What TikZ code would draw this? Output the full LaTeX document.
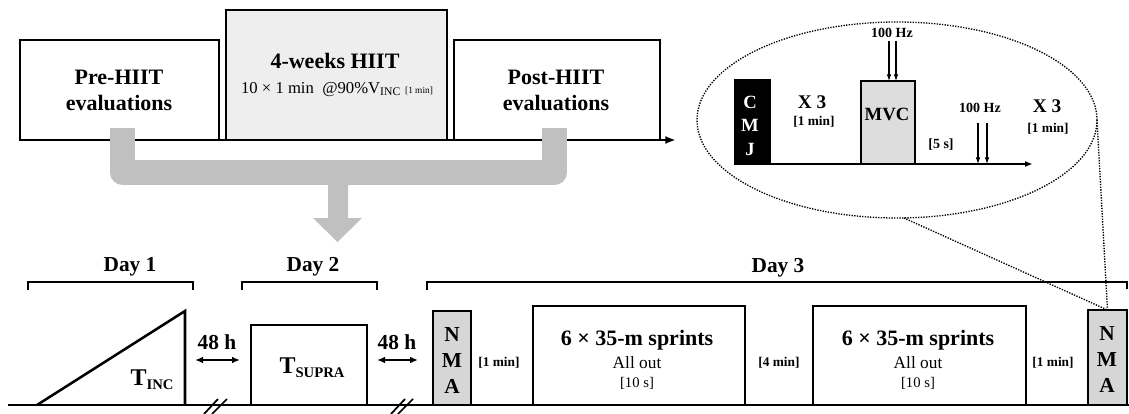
\documentclass[tikz,border=0pt]{standalone}
\usepackage{fontspec}
\setmainfont{Liberation Serif}
\usetikzlibrary{arrows.meta,shapes.geometric}
\definecolor{arrowgray}{HTML}{C0C0C0}
\definecolor{hiitfill}{HTML}{EEEEEE}
\definecolor{mvcfill}{HTML}{DDDDDD}
\definecolor{nmafill}{HTML}{D6D6D6}
\newcommand\fsz[1]{\fontsize{#1}{#1}\selectfont}
\newcommand\lowsub[1]{\raisebox{-3pt}{\fsz{11}#1}}
\begin{document}
\begin{tikzpicture}[x=0.75pt,y=-0.75pt,
  rbox/.style 2 args={draw, line width=2.1pt, minimum width=#1*0.75pt, minimum height=#2*0.75pt, inner sep=0pt, outer sep=0pt},
  bbox/.style 2 args={draw, line width=1.9pt, minimum width=#1*0.75pt, minimum height=#2*0.75pt, inner sep=0pt, outer sep=0pt},
  txt/.style={inner sep=0pt, outer sep=0pt, anchor=base},
  axisline/.style={line width=2pt},
  bracketline/.style={line width=1.8pt},
  dotline/.style={line width=1pt, dash pattern=on 1pt off 1pt},
  dbl/.style={line width=1.6pt, {Latex[length=6pt,width=5pt]}-{Latex[length=6pt,width=5pt]}},
  stim/.style={line width=0.8pt, -{Latex[length=5pt,width=3.5pt]}},
  breakmark/.style={line width=1.3pt}
]
\useasboundingbox (0,0) rectangle (1129,414);

% ---------- top row ----------
\node[rbox={199}{100}] (pre) at (119.5,90) {};
\node[rbox={221}{130}, fill=hiitfill] (hiit) at (336.5,75) {};
\node[rbox={206}{100}] (post) at (557,90) {};
\node[font=\bfseries\fontsize{16.5}{19.5}\selectfont, align=center, inner sep=0pt] (pretxt) at (119,90) {Pre-HIIT\\evaluations};
\node[font=\bfseries\fontsize{16.5}{19.5}\selectfont, align=center, inner sep=0pt] (posttxt) at (556,90) {Post-HIIT\\evaluations};
\node[txt, font=\bfseries\fsz{16.5}] (hiitA) at (335,68) {4-weeks HIIT};
\node[txt, font=\fsz{12.5}] (hiitB) at (337,93) {10 × 1 min\ \ @90\%V\textsubscript{INC} {\fsz{7}[1 min]}};
\draw[axisline, -{Latex[length=8pt,width=6pt]}] (pre.south west) -- (676,140);

% gray arrow
\coordinate (gl) at (122.5,128);
\coordinate (gr) at (554.5,128);
\draw[arrowgray, line width=18.75pt, line join=round] (gl) -- (gl |- 0,172.5) -- (gr |- 0,172.5) -- (gr);
\fill[arrowgray] (328,180) -- (328,218) -- (313,218) -- (337.5,242) -- (362,218) -- (348,218) -- (348,180) -- cycle;

% ---------- inset ----------
\node[draw, ellipse, dotline, minimum width=400*0.75pt, minimum height=196*0.75pt, inner sep=0pt, outer sep=0pt] (zoom) at (897,120) {};
\node[bbox={35}{84}, fill=black, line width=1.2pt] (cmj) at (752.5,122) {};
\node[font=\bfseries\fontsize{14}{17.6}\selectfont, text=white, align=center, inner sep=0pt] (cmjt) at (750,125.5) {C\\M\\J};
\node[bbox={54}{83}, fill=mvcfill, line width=1.5pt] (mvc) at (888,122.5) {};
\node[txt, font=\bfseries\fsz{14}] (mvct) at (887,120) {MVC};
\draw[line width=1.6pt, -{Latex[length=6pt,width=4.5pt]}] (cmj.south west) -- (1033,164);
\node[txt, font=\bfseries\fsz{10.5}] (hz1) at (892,37) {100 Hz};
\node[txt, font=\bfseries\fsz{14.5}] (x3a) at (812,108) {X 3};
\node[txt, font=\bfseries\fsz{10}] (m1a) at (814,125) {[1 min]};
\node[txt, font=\bfseries\fsz{10.5}] (hz2) at (980,112) {100 Hz};
\node[txt, font=\bfseries\fsz{14.5}] (x3b) at (1047,112) {X 3};
\node[txt, font=\bfseries\fsz{10}] (m1b) at (1048,132) {[1 min]};
\node[txt, font=\bfseries\fsz{10.5}] (s5) at (941,148) {[5 s]};
\coordinate (s1) at (889,41);
\coordinate (s2) at (896,41);
\draw[stim] (s1) -- (s1 |- mvc.north);
\draw[stim] (s2) -- (s2 |- mvc.north);
\coordinate (s3) at (978,123);
\coordinate (s4) at (987,123);
\draw[stim] (s3) -- (s3 |- cmj.south);
\draw[stim] (s4) -- (s4 |- cmj.south);

% ---------- bottom row ----------
\draw[axisline] (8,405) -- (1129,405);
\coordinate (triL) at (37,405);
\coordinate (triT) at (185,311);
\coordinate (triB) at (185,405);
\draw[line width=1.9pt] (triL) -- (triT) -- (triB);
\node[txt, font=\bfseries\fsz{18}] (tinc) at (152,385) {T\lowsub{INC}};

\node[bbox={116}{80}] (supra) at (309,365) {};
\node[txt, font=\bfseries\fsz{18}] (supt) at (312,373) {T\lowsub{SUPRA}};

\node[bbox={38}{94}, fill=nmafill] (nmaL) at (452,358) {};
\node[font=\bfseries\fontsize{16}{19.5}\selectfont, align=center, inner sep=0pt] (nmaLt) at (452,361) {N\\M\\A};
\node[bbox={212}{99}] (sp1) at (639,355.5) {};
\node[bbox={213}{99}] (sp2) at (919.5,355.5) {};
\node[bbox={39}{95}, fill=nmafill] (nmaR) at (1107.5,357.5) {};
\node[font=\bfseries\fontsize{16}{19.5}\selectfont, align=center, inner sep=0pt] (nmaRt) at (1107,360) {N\\M\\A};

\node[txt, font=\bfseries\fsz{16.5}] (sp1a) at (637,345) {6 × 35-m sprints};
\node[txt, font=\fsz{13}] (sp1b) at (637,368) {All out};
\node[txt, font=\fsz{11}] (sp1c) at (637,387) {[10 s]};
\node[txt, font=\bfseries\fsz{16.5}] (sp2a) at (918,345) {6 × 35-m sprints};
\node[txt, font=\fsz{13}] (sp2b) at (918,368) {All out};
\node[txt, font=\fsz{11}] (sp2c) at (918,387) {[10 s]};

\node[txt, font=\bfseries\fsz{10}] (r1) at (499,366) {[1 min]};
\node[txt, font=\bfseries\fsz{10}] (r4) at (779,366) {[4 min]};
\node[txt, font=\bfseries\fsz{10}] (r1b) at (1053,366) {[1 min]};

% 48 h
\node[txt, font=\bfseries\fsz{16}] (h48a) at (217,349) {48 h};
\node[txt, font=\bfseries\fsz{16}] (h48b) at (397,349) {48 h};
\coordinate (triR) at (185,360);
\draw[dbl, shorten <=10*0.75pt, shorten >=11*0.75pt] (triR) -- (supra.west |- triR);
\draw[dbl, shorten <=10*0.75pt, shorten >=15*0.75pt] (supra.east |- triR) -- (nmaL.west |- triR);

% breaks
\draw[breakmark] (204,414) -- (218,399);
\draw[breakmark] (212,414) -- (227,399);
\draw[breakmark] (391,414) -- (405,399);
\draw[breakmark] (398,414) -- (413,399);

% day brackets
\draw[bracketline] (28,290) -- (28,282) -- (193,282) -- (193,290);
\draw[bracketline] (242,290) -- (242,282) -- (377,282) -- (377,290);
\draw[bracketline] (427,290) -- (427,282) -- (1127,282) -- (1127,289);
\node[txt, font=\bfseries\fsz{16}] (d1) at (130,271) {Day 1};
\node[txt, font=\bfseries\fsz{16}] (d2) at (313,271) {Day 2};
\node[txt, font=\bfseries\fsz{16}] (d3) at (778,272) {Day 3};

% zoom connectors
\draw[dotline] (zoom.-86) -- (nmaR.north);
\draw[dotline] (zoom.east) -- (nmaR.north);
\end{tikzpicture}
\end{document}
